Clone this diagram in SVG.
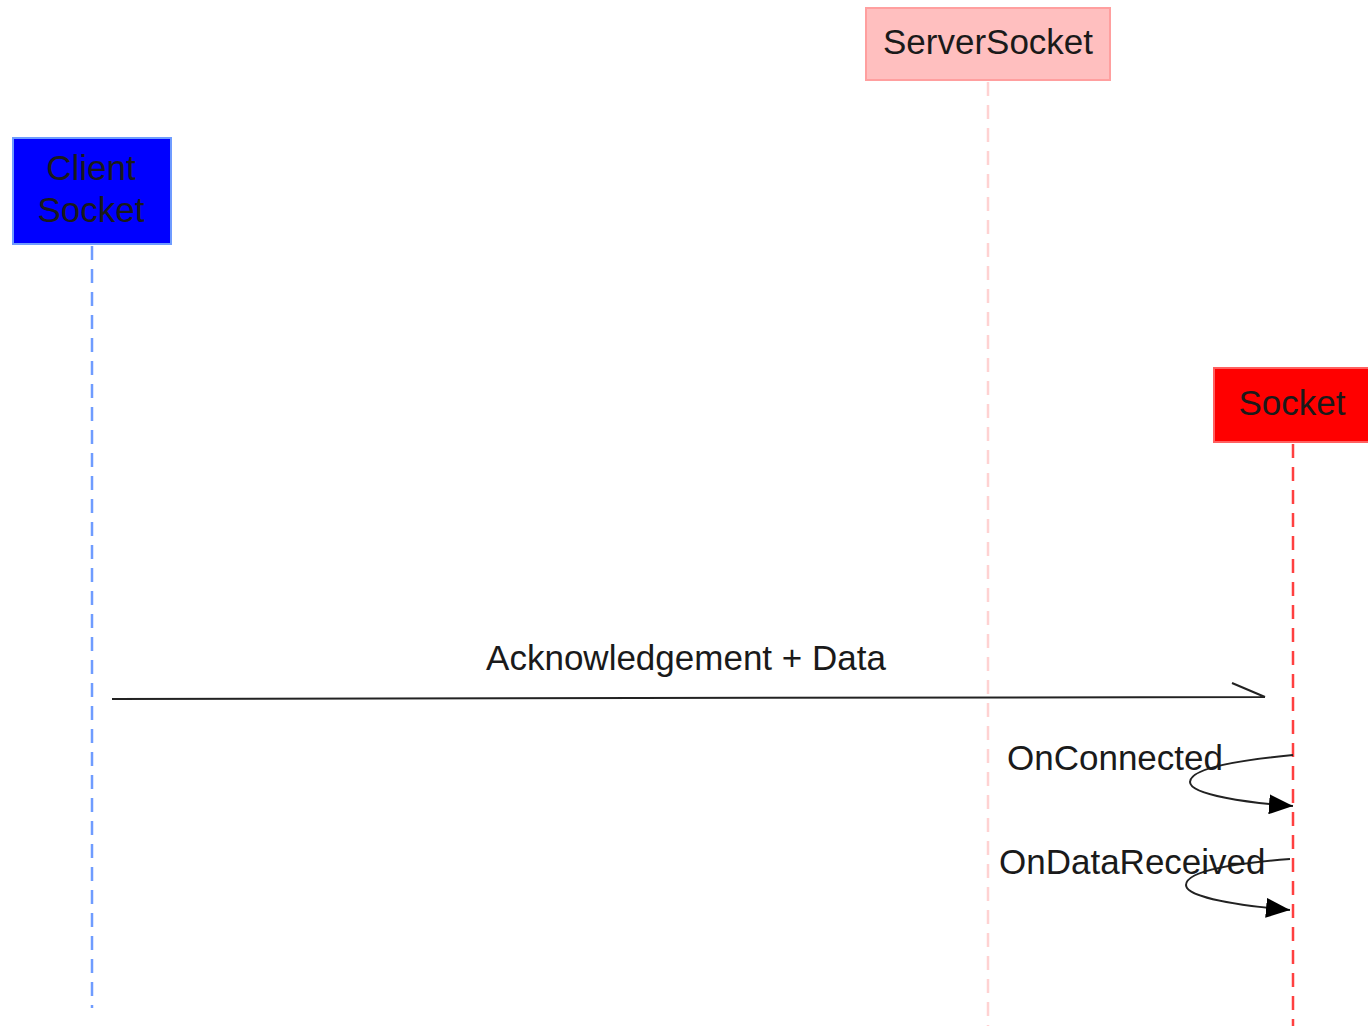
<svg xmlns="http://www.w3.org/2000/svg" width="1368" height="1026" viewBox="0 0 1368 1026">
<style>
text{font-family:"Liberation Sans",Arial,sans-serif;font-size:35px;fill:#1a1a1a}
.c{text-anchor:middle}
.life{fill:none;stroke-width:2.5;stroke-dasharray:14,9}
.msg{fill:none;stroke:#222;stroke-width:2}
</style>
<defs>
<marker id="ahBig" viewBox="0 0 24 20" refX="24" refY="10" markerWidth="24" markerHeight="20" markerUnits="userSpaceOnUse" orient="auto">
<path d="M0,0 L24,10 L0,20 Z" fill="#000"/>
</marker>
</defs>
<rect width="1368" height="1026" fill="#fff"/>
<g id="lifelines">
<line class="life" x1="92" y1="246" x2="92" y2="1008" stroke="#6f9cff"/>
<line class="life" x1="988" y1="82" x2="988" y2="1026" stroke="#ffd2d2"/>
<line class="life" x1="1293" y1="444" x2="1293" y2="1026" stroke="#ff4040"/>
</g>
<g id="node-serversocket">
<rect x="866" y="8" width="244" height="72" fill="#ffbfbf" stroke="#ff9f9f" stroke-width="2"/>
<text class="c" x="988" y="54">ServerSocket</text>
</g>
<g id="node-clientsocket">
<rect x="13" y="138" width="158" height="106" fill="#0000ff" stroke="#6f9cff" stroke-width="2"/>
<text class="c" x="91" y="180">Client</text>
<text class="c" x="91" y="222">Socket</text>
</g>
<g id="node-socket">
<rect x="1214" y="368" width="160" height="74" fill="#ff0000" stroke="#ff6060" stroke-width="2"/>
<text class="c" x="1292" y="415">Socket</text>
</g>
<g id="connectors">
<path class="msg" d="M112,699 L1265,697 M1232,683 L1265,697"/>
<text class="c" x="686" y="670">Acknowledgement + Data</text>
<path class="msg" d="M1293,755 C1240,760 1190,768 1190,782 C1190,795 1250,803 1293,806" marker-end="url(#ahBig)"/>
<text x="1007" y="770">OnConnected</text>
<path class="msg" d="M1290,859 C1240,863 1186,870 1186,885 C1186,898 1245,906 1290,910" marker-end="url(#ahBig)"/>
<text x="999" y="874">OnDataReceived</text>
</g>
</svg>
